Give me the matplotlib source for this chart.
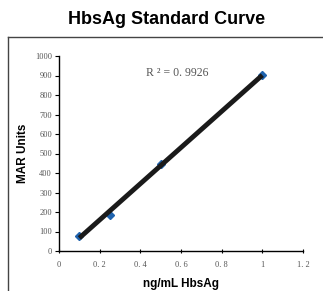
import numpy as np
import matplotlib.pyplot as plt
from matplotlib.lines import Line2D

# Standard curve data
conc = [0.1, 0.25, 0.5, 1.0]
mar_units = [78, 186, 447, 901]
r2_label = "R ² = 0. 9926"

xticks = [0, 0.2, 0.4, 0.6, 0.8, 1, 1.2]
xtick_labels = ["0", "0. 2", "0. 4", "0. 6", "0. 8", "1", "1. 2"]
yticks = list(range(0, 1001, 100))

fig = plt.figure(figsize=(3.23, 2.91), dpi=100)

# outer frame (partial box)
fig.add_artist(Line2D([8 / 323, 8 / 323], [0, 1 - 37 / 291], color="#444444", lw=1.0))
fig.add_artist(Line2D([8 / 323, 1], [1 - 37 / 291, 1 - 37 / 291], color="#444444", lw=1.0))

fig.text(0.515, 1 - 20 / 291, "HbsAg Standard Curve", ha="center", va="center",
         fontsize=13, fontweight="bold", family="Liberation Sans")

ax = fig.add_axes([59 / 323, 1 - 251 / 291, 244 / 323, 195 / 291])

# linear trendline
slope, intercept = np.polyfit(conc, mar_units, 1)
xs = np.array([conc[0], conc[-1]])
ax.plot(xs, slope * xs + intercept, color="#1a1a1a", lw=3.5, solid_capstyle="butt", zorder=2)
ax.plot(conc, mar_units, "D", color="#1f63ae", markersize=4.5, zorder=1)

ax.text(0.43, 915, r2_label, fontsize=8.5, color="#555555", family="Liberation Serif",
        va="center")

ax.set_xlim(0, 1.2)
ax.set_ylim(0, 1000)
ax.set_xticks(xticks)
ax.set_xticklabels(xtick_labels)
ax.set_yticks(yticks)
for s in ["top", "right"]:
    ax.spines[s].set_visible(False)
for s in ["left", "bottom"]:
    ax.spines[s].set_linewidth(1.0)
ax.tick_params(axis="y", direction="out", length=3, width=0.8, labelsize=6,
               labelcolor="#555555", pad=2)
ax.tick_params(axis="x", direction="inout", length=3, width=0.8, labelsize=6,
               labelcolor="#555555", pad=6)
for lab in ax.get_xticklabels() + ax.get_yticklabels():
    lab.set_family("Liberation Serif")

ax.set_xlabel("ng/mL HbsAg", fontsize=8.5, fontweight="bold", family="Liberation Sans")
ax.set_ylabel("MAR Units", fontsize=8.5, fontweight="bold", family="Liberation Sans")
ax.xaxis.set_label_coords(0.5, -0.138)
ax.yaxis.set_label_coords(-0.123, 0.5)

fig.savefig("out.png", dpi=100)
